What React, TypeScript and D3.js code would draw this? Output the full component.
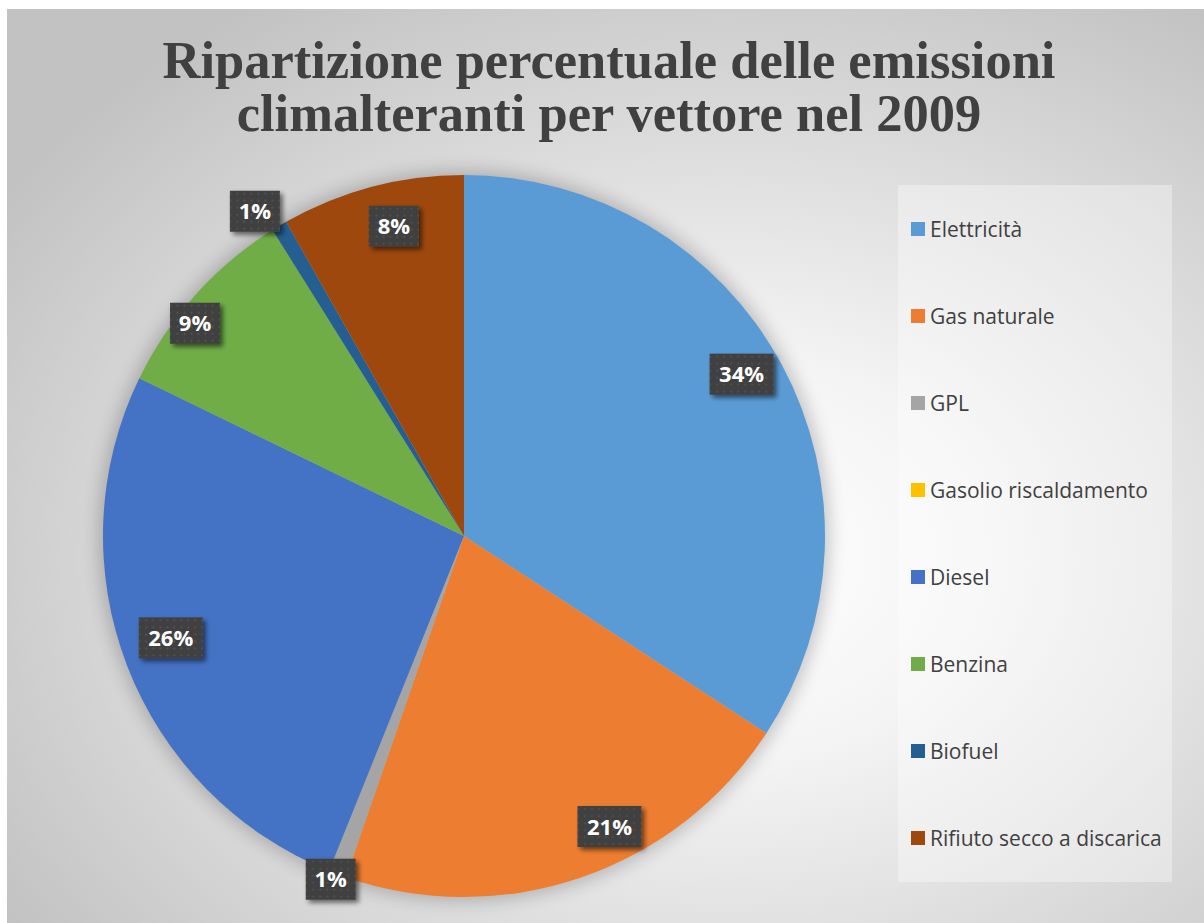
import React from "react";
import * as d3 from "d3";

const categories = [
  "Elettricità",
  "Gas naturale",
  "GPL",
  "Gasolio riscaldamento",
  "Diesel",
  "Benzina",
  "Biofuel",
  "Rifiuto secco a discarica",
];
const values = [34.2, 21.1, 0.8, 0, 26.1, 8.9, 0.7, 8.2];
const colors = ["#5B9BD5", "#ED7D31", "#A5A5A5", "#FFC000", "#4472C4", "#70AD47", "#255E91", "#9E480E"];
// label placement (Excel best-fit), as radius fraction and angle shift in degrees
const labelRadius = [0.89, 0.9, 1.02, 0, 0.86, 0.95, 1.07, 0.88];
const labelShift = [-1.8, -7.7, 0.7, 0, 1.9, -3.6, -2, 2];
const titleLines = ["Ripartizione percentuale delle emissioni", "climalteranti per vettore nel 2009"];

const W = 1204;
const H = 923;
const cx = 464;
const cy = 536;
const R = 361;

export default function App() {
  const pie = d3.pie<number>().sort(null).value((d) => d)(values);
  const arc = d3.arc<d3.PieArcDatum<number>>().innerRadius(0).outerRadius(R);
  const legendY = d3.scalePoint<string>().domain(categories).range([229, 838]);

  return (
    <svg width={W} height={H} style={{ position: "absolute", left: 0, top: 0 }}>
      <defs>
        <radialGradient id="bg" cx="0.6" cy="0.6" r="0.72">
          <stop offset="0" stopColor="#ffffff" />
          <stop offset="0.3" stopColor="#f4f4f4" />
          <stop offset="1" stopColor="#c2c2c2" />
        </radialGradient>
        <pattern id="dots" width="7" height="7" patternUnits="userSpaceOnUse">
          <rect width="7" height="7" fill="#404040" />
          <circle cx="3.5" cy="3.5" r="1" fill="#555555" />
        </pattern>
        <filter id="pieShadow" x="-20%" y="-20%" width="140%" height="140%">
          <feGaussianBlur stdDeviation="9" />
        </filter>
        <filter id="boxShadow" x="-30%" y="-30%" width="160%" height="160%">
          <feGaussianBlur in="SourceAlpha" stdDeviation="2.5" />
          <feOffset dx="3" dy="3" result="b" />
          <feComponentTransfer>
            <feFuncA type="linear" slope="0.55" />
          </feComponentTransfer>
          <feMerge>
            <feMergeNode />
            <feMergeNode in="SourceGraphic" />
          </feMerge>
        </filter>
      </defs>
      <rect x={0} y={0} width={W} height={H} fill="#ffffff" />
      <rect x={7} y={9} width={W - 7} height={H - 9} fill="url(#bg)" />

      {titleLines.map((t, i) => (
        <text
          key={i}
          x={609}
          y={78 + i * 53}
          textAnchor="middle"
          fontFamily="'Liberation Serif', serif"
          fontWeight="bold"
          fontSize={52.5}
          fill="#404040"
        >
          {t}
        </text>
      ))}

      <circle cx={cx} cy={cy} r={R + 4} fill="#000" opacity={0.22} filter="url(#pieShadow)" />
      <g transform={`translate(${cx},${cy})`}>
        {pie.map((p, i) => (
          <path key={i} d={arc(p) || ""} fill={colors[i]} />
        ))}
      </g>

      <g transform={`translate(${cx},${cy})`}>
        {pie.map((p, i) => {
          if (values[i] <= 0) return null;
          const a = (p.startAngle + p.endAngle) / 2 + (labelShift[i] * Math.PI) / 180;
          const r = R * labelRadius[i];
          const x = r * Math.sin(a);
          const y = -r * Math.cos(a);
          const label = `${Math.round(values[i])}%`;
          const w = label.length === 3 ? 64 : 50;
          const h = 41;
          return (
            <g key={i} transform={`translate(${x},${y})`}>
              <rect x={-w / 2} y={-h / 2} width={w} height={h} fill="url(#dots)" filter="url(#boxShadow)" />
              <text
                x={0}
                y={8}
                textAnchor="middle"
                fontFamily="'Open Sans', sans-serif"
                fontWeight="bold"
                fontSize={22}
                fill="#ffffff"
              >
                {label}
              </text>
            </g>
          );
        })}
      </g>

      <rect x={898} y={185} width={274} height={697} fill="#ffffff" opacity={0.35} />
      {categories.map((c, i) => {
        const y = legendY(c) as number;
        return (
          <g key={c}>
            <rect x={911} y={y - 7} width={14} height={14} fill={colors[i]} />
            <text
              x={930}
              y={y + 7.5}
              fontFamily="'Open Sans', sans-serif"
              fontSize={21}
              fill="#404040"
            >
              {c}
            </text>
          </g>
        );
      })}
    </svg>
  );
}
